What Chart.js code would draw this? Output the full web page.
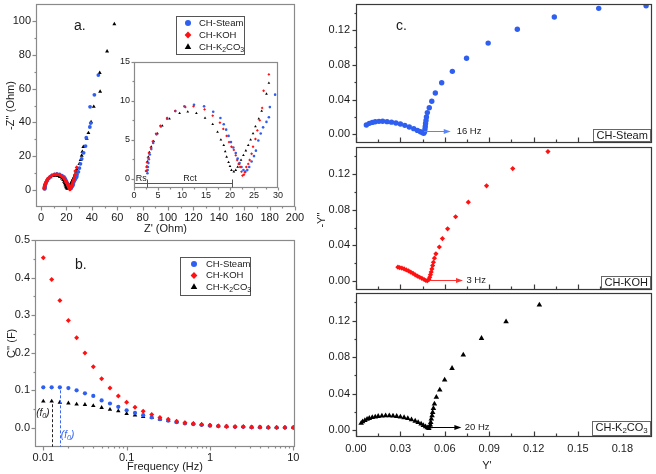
<!DOCTYPE html>
<html><head><meta charset="utf-8">
<script src="https://cdn.jsdelivr.net/npm/chart.js@4.4.1/dist/chart.umd.min.js"></script>
<style>
html,body{margin:0;padding:0;background:#fff;}
body{width:656px;height:474px;position:relative;overflow:hidden;}
canvas{position:absolute;}
</style>
</head><body>
<script>
// ================= DATA =================
// Panel a: Nyquist plot, Z' (Ohm) vs -Z'' (Ohm)
const aSteamX = [2.8,2.85,2.9,3.0,3.1,3.3,3.6,4.0,4.7,5.6,6.9,8.6,10.5,12.5,14.6,16.5,18.0,18.7,19.2,19.7,20.2,20.7,21.2,21.6,22.0,22.4,22.8,23.2,23.6,24.0,24.5,25.0,25.4,25.9,26.4,26.9,27.6,28.1,28.3,29.4,30.2,31.0,32.0,33.5,35.0,35.6,38.4,39.1,38.6,42.0,45.1];
const aSteamY = [0.7,1.1,1.5,2.0,2.5,3.1,3.8,4.6,5.7,6.7,7.7,8.7,9.3,9.5,9.3,8.6,7.8,7.0,6.3,5.5,4.7,4.0,3.3,2.6,2.0,1.5,1.1,0.9,1.1,1.5,2.2,2.9,3.6,4.9,5.8,6.6,7.3,7.9,9.2,10.8,13.0,15.5,18.5,22.0,26.0,31.0,37.3,39.6,49.2,56.3,68.0];
const aKohX = [2.5,2.6,2.7,2.9,3.1,3.5,3.9,4.6,5.5,6.9,8.6,10.7,12.4,14.7,16.4,17.9,18.6,19.3,19.8,20.3,20.8,21.2,21.5,21.8,22.1,22.4,22.6,22.9,23.1,23.4,23.8,24.1,24.5,24.8,25.3,25.7,26.2,26.7,27.0,28.1];
const aKohY = [1.0,1.5,2.1,2.7,3.3,4.0,4.8,5.8,6.8,7.8,8.7,9.2,9.3,8.9,8.1,7.2,6.4,5.5,4.7,4.1,3.7,3.0,2.4,1.9,1.5,0.9,0.4,0.5,0.8,1.5,1.9,2.4,3.2,4.1,5.1,6.2,7.5,9.1,11.3,13.4];
const aK2co3X = [2.6,2.7,2.8,3.0,3.2,3.6,4.1,4.9,5.9,7.4,9.5,11.2,13.0,14.8,16.4,17.4,18.1,18.7,19.0,19.3,19.7,20.0,20.3,20.8,21.2,21.6,21.9,22.3,22.8,23.3,23.8,24.3,24.8,25.3,26.0,26.6,27.6,28.1,30.2,31.2,32.0,32.5,33.3,36.0,37.3,39.4,41.5,46.5,46.2,52.0,57.7];
const aK2co3Y = [1.0,1.6,2.2,2.8,3.4,4.1,4.8,5.8,6.8,7.7,8.4,8.6,8.4,7.8,7.0,6.0,5.0,4.3,3.5,2.8,2.1,1.6,1.1,0.9,1.1,1.5,1.9,2.4,3.0,3.6,4.3,5.0,5.8,6.7,7.7,8.7,10.9,12.3,15.5,17.9,20.4,22.7,25.6,30.5,33.8,40.2,49.3,58.2,69.3,82.0,98.1];
const aXTicks = [0,20,40,60,80,100,120,140,160,180,200];
const aYTicks = [0,20,40,60,80,100];
const insetXTicks = [0,5,10,15,20,25,30];
const insetYTicks = [0,5,10,15];
const rsRctBounds = [0, 2.8, 20.5];   // Rs | Rct span on the Z' axis
const rsRctLabels = ['Rs', 'Rct'];

// Panel b: C'' (F) vs frequency (Hz)
const bFreq = [0.01,0.0126,0.0158,0.02,0.0251,0.0316,0.0398,0.0501,0.0631,0.0794,0.1,0.126,0.158,0.2,0.251,0.316,0.398,0.501,0.631,0.794,1,1.26,1.58,2,2.51,3.16,3.98,5.01,6.31,7.94,10];
const bSteam = [0.108,0.108,0.108,0.106,0.100,0.092,0.085,0.073,0.065,0.056,0.047,0.040,0.034,0.028,0.023,0.019,0.015,0.012,0.010,0.008,0.006,0.005,0.004,0.003,0.003,0.002,0.002,0.001,0.001,0.001,0.001];
const bKoh = [0.453,0.395,0.339,0.286,0.240,0.199,0.163,0.131,0.106,0.085,0.068,0.055,0.044,0.036,0.028,0.023,0.018,0.014,0.012,0.009,0.007,0.005,0.004,0.003,0.003,0.002,0.002,0.002,0.001,0.001,0.001];
const bK2co3 = [0.071,0.071,0.068,0.066,0.063,0.062,0.059,0.054,0.049,0.045,0.038,0.034,0.030,0.027,0.023,0.020,0.016,0.013,0.011,0.009,0.007,0.005,0.004,0.003,0.003,0.002,0.002,0.001,0.001,0.001,0.001];
const bXTicks = [0.01,0.1,1,10];
const bYTicks = [0,0.1,0.2,0.3,0.4,0.5];
const bF0Steam = 2, bF0K2co3 = 1;   // indices of the (f0) markers

// Panel c: admittance plots, Y' vs -Y''
const cSteamX = [0.007,0.009,0.011,0.013,0.0155,0.018,0.021,0.024,0.027,0.030,0.033,0.036,0.039,0.0415,0.0435,0.045,0.0458,0.0463,0.0466,0.0468,0.047,0.0473,0.0476,0.0482,0.0495,0.0512,0.0536,0.0579,0.0651,0.0747,0.0893,0.109,0.134,0.164,0.196];
const cSteamY = [0.0108,0.0126,0.0137,0.0144,0.0149,0.015,0.0146,0.014,0.013,0.0118,0.0103,0.0085,0.0065,0.0045,0.003,0.0019,0.0013,0.003,0.006,0.009,0.0125,0.016,0.020,0.025,0.0305,0.038,0.0475,0.0593,0.0725,0.0876,0.105,0.121,0.135,0.145,0.148];
const cKohX = [0.0283,0.0295,0.031,0.0325,0.034,0.0355,0.037,0.0385,0.040,0.0415,0.043,0.0445,0.046,0.0472,0.0482,0.0492,0.0498,0.0503,0.0508,0.0513,0.0518,0.0523,0.053,0.054,0.0563,0.0584,0.0619,0.0673,0.0759,0.0882,0.1059,0.1297];
const cKohY = [0.0154,0.0150,0.0143,0.0135,0.0124,0.0112,0.0098,0.0085,0.0069,0.0055,0.0041,0.0029,0.0016,0.0005,0.0002,0.0015,0.004,0.007,0.010,0.0135,0.0172,0.021,0.0256,0.0304,0.0381,0.0476,0.0585,0.0721,0.0885,0.1068,0.1262,0.1453];
const cK2co3X = [0.0035,0.0045,0.006,0.0075,0.009,0.011,0.013,0.015,0.0175,0.020,0.0225,0.025,0.0275,0.030,0.0325,0.035,0.0375,0.040,0.042,0.044,0.0455,0.047,0.0482,0.0492,0.0498,0.0502,0.0505,0.0509,0.0514,0.0518,0.0523,0.053,0.0543,0.0566,0.0599,0.0649,0.0725,0.0848,0.1014,0.1239];
const cK2co3Y = [0.0075,0.009,0.0105,0.0118,0.0128,0.0137,0.0144,0.015,0.0154,0.0156,0.0156,0.0154,0.015,0.0144,0.0136,0.0126,0.0113,0.0098,0.0083,0.0066,0.005,0.0035,0.0024,0.0018,0.0035,0.0055,0.0084,0.0121,0.0157,0.0194,0.0238,0.0285,0.0359,0.0439,0.0549,0.0677,0.0823,0.1006,0.1189,0.1372];
const cXTicks = [0,0.03,0.06,0.09,0.12,0.15,0.18];
const cYTicks = [0,0.04,0.08,0.12];
// frequency arrows: [x start, x end, y, label x, label]
const cSteamArrow = [0.046, 0.064, 0.004, 0.068, '16 Hz'];
const cKohArrow = [0.0499, 0.0723, 0.0014, 0.0746, '3 Hz'];
const cK2co3Arrow = [0.051, 0.0712, 0.0036, 0.0735, '20 Hz'];
const seriesNames = ['CH-Steam', 'CH-KOH', 'CH-K_2CO_3'];

// ================= HELPERS =================
const FONT = "'Liberation Sans', Arial, Helvetica, sans-serif";
const BLUE = '#2f5ff0', RED = '#ff1111', BLACK = '#000000', TXT = '#1a1a1a';
const pts = (xs, ys) => xs.map((x, i) => ({x, y: ys[i]}));
const mids = arr => arr.slice(1).map((v, i) => +((v + arr[i]) / 2).toFixed(6));

function parseRich(str){
  const out = [];
  for (let i = 0; i < str.length; i++){
    if (str[i] === '_' && i + 1 < str.length){ out.push({t: str[i+1], sub: true}); i++; }
    else { const l = out[out.length-1]; if (l && !l.sub) l.t += str[i]; else out.push({t: str[i], sub: false}); }
  }
  return out;
}
function drawRich(ctx, str, x, y, size, opt){
  opt = opt || {};
  const style = opt.style || '', segs = parseRich(str);
  let w = 0;
  for (const s of segs){ ctx.font = `${style} ${s.sub ? size*0.72 : size}px ${FONT}`; w += ctx.measureText(s.t).width; }
  let cx = opt.align === 'center' ? x - w/2 : opt.align === 'right' ? x - w : x;
  ctx.save(); ctx.fillStyle = opt.color || TXT; ctx.textBaseline = 'middle'; ctx.textAlign = 'left';
  for (const s of segs){
    ctx.font = `${style} ${s.sub ? size*0.72 : size}px ${FONT}`;
    ctx.fillText(s.t, cx, s.sub ? y + size*0.28 : y);
    cx += ctx.measureText(s.t).width;
  }
  ctx.restore();
  return w;
}
function marker(ctx, style, x, y, r, color){
  ctx.save(); ctx.fillStyle = color; ctx.beginPath();
  if (style === 'circle') ctx.arc(x, y, r, 0, Math.PI*2);
  else if (style === 'rectRot'){ ctx.moveTo(x, y-r); ctx.lineTo(x+r, y); ctx.lineTo(x, y+r); ctx.lineTo(x-r, y); ctx.closePath(); }
  else { ctx.moveTo(x, y-r); ctx.lineTo(x + r*0.866, y + r*0.5); ctx.lineTo(x - r*0.866, y + r*0.5); ctx.closePath(); }
  ctx.fill(); ctx.restore();
}
function legend(ctx, bx, by, bw, bh, rows, mx, tx){
  ctx.save(); ctx.strokeStyle = '#555'; ctx.lineWidth = 1;
  ctx.strokeRect(Math.round(bx)+0.5, Math.round(by)+0.5, bw, bh); ctx.restore();
  rows.forEach(r => { marker(ctx, r.s, mx, r.y, r.r, r.c); drawRich(ctx, r.label, tx, r.y, 9.5); });
}
function arrow(ctx, x1, x2, y, color){
  ctx.save(); ctx.strokeStyle = color; ctx.fillStyle = color; ctx.lineWidth = 1;
  ctx.beginPath(); ctx.moveTo(x1, y); ctx.lineTo(x2-5, y); ctx.stroke();
  ctx.beginPath(); ctx.moveTo(x2, y); ctx.lineTo(x2-7, y-2.6); ctx.lineTo(x2-7, y+2.6); ctx.closePath(); ctx.fill();
  ctx.restore();
}

const framePlugin = {
  id: 'frame',
  beforeDraw(chart, a, o){
    if (o && o.fill){ const c = chart.chartArea, ctx = chart.ctx; ctx.save(); ctx.fillStyle = o.fill; ctx.fillRect(c.left, c.top, c.width, c.height); ctx.restore(); }
  },
  afterDatasetsDraw(chart, a, o){
    if (!o) return;
    const ctx = chart.ctx, c = chart.chartArea;
    ctx.save(); ctx.strokeStyle = o.color; ctx.lineWidth = o.width || 1;
    ctx.strokeRect(Math.round(c.left)+0.5, Math.round(c.top)+0.5, Math.round(c.right)-Math.round(c.left)-1, Math.round(c.bottom)-Math.round(c.top)-1);
    for (const key of ['x','y']){
      const t = o.ticks && o.ticks[key]; if (!t) continue;
      const s = chart.scales[key], sg = t.dir === 'in' ? -1 : 1;
      const B = Math.round(c.bottom) - 0.5, L = Math.round(c.left) + 0.5;
      const one = (v, len) => {
        const p = Math.round(s.getPixelForValue(v)) + 0.5;
        ctx.beginPath();
        if (key === 'x'){ ctx.moveTo(p, B); ctx.lineTo(p, B + sg*len); }
        else { ctx.moveTo(L, p); ctx.lineTo(L - sg*len, p); }
        ctx.stroke();
      };
      (t.major || []).forEach(v => one(v, t.len || 4));
      (t.minor || []).forEach(v => one(v, t.mlen || 2));
    }
    ctx.restore();
  }
};

function axis(o){
  return {
    type: o.type || 'linear', min: o.min, max: o.max,
    afterBuildTicks: s => { s.ticks = o.ticks.map(v => ({value: v})); },
    ticks: {display: o.show !== false, autoSkip: false, maxRotation: 0, minRotation: 0, padding: o.pad,
      color: TXT, font: {family: FONT, size: o.size || 11}, callback: v => o.fmt(v)},
    grid: {display: false, drawTicks: false}, border: {display: false},
    title: o.title ? {display: true, text: o.title, color: TXT, font: {family: FONT, size: 11}, padding: o.tpad} : {display: false}
  };
}

function makeChart(cfg){
  const {box, area} = cfg;
  const cv = document.createElement('canvas');
  cv.width = box.w; cv.height = box.h;
  cv.style.left = box.l + 'px'; cv.style.top = box.t + 'px';
  document.body.appendChild(cv);
  const yW = area.l - box.l, xH = box.t + box.h - area.b;
  const zero = s => { s.paddingLeft = 0; s.paddingRight = 0; s.paddingTop = 0; s.paddingBottom = 0; };
  cfg.x.afterFit = s => { s.height = xH; zero(s); };
  cfg.y.afterFit = s => { s.width = yW; zero(s); };
  return new Chart(cv, {
    type: 'scatter',
    data: {datasets: cfg.datasets},
    options: {
      responsive: false, animation: false, devicePixelRatio: 1, events: [],
      layout: {padding: {left: 0, top: area.t - box.t, right: box.l + box.w - area.r, bottom: 0}},
      scales: {x: cfg.x, y: cfg.y},
      plugins: {legend: {display: false}, tooltip: {enabled: false}, frame: cfg.frame}
    },
    plugins: [framePlugin, {id: 'decor', afterDraw: c => { if (cfg.draw) cfg.draw(c, c.ctx); }}]
  });
}
function ds(label, data, style, color, r, order){
  return {label, data, pointStyle: style, pointRadius: r, pointBackgroundColor: color, pointBorderColor: color,
    pointBorderWidth: 0, backgroundColor: color, borderColor: color, showLine: false, order};
}
const logMinor = [];
[0.01, 0.1, 1].forEach(d => { for (let k = 2; k <= 9; k++) logMinor.push(+(d*k).toFixed(4)); });

// ================= PANEL a =================
const aDatasets = (r) => [
  ds(seriesNames[0], pts(aSteamX, aSteamY), 'circle', BLUE, r, 1),
  ds(seriesNames[1], pts(aKohX, aKohY), 'rectRot', RED, r*1.1, 0),
  ds(seriesNames[2], pts(aK2co3X, aK2co3Y), 'triangle', BLACK, r*1.2, 2)
];
makeChart({
  box: {l: 0, t: 0, w: 312, h: 240}, area: {l: 36, t: 2, r: 295, b: 207},
  datasets: aDatasets(1.9),
  x: axis({min: -4, max: 200, ticks: aXTicks, fmt: v => String(v), pad: 4, title: "Z' (Ohm)", tpad: {top: 0, bottom: 4}}),
  y: axis({min: -10, max: 110, ticks: aYTicks, fmt: v => String(v), pad: 5, title: "-Z'' (Ohm)", tpad: {top: 4, bottom: 4}}),
  frame: {color: '#8a8a8a', width: 1.2, ticks: {
    x: {major: aXTicks, minor: mids(aXTicks), dir: 'out', len: 4, mlen: 2},
    y: {major: aYTicks, minor: mids(aYTicks), dir: 'out', len: 4, mlen: 2}}},
  draw: (c, ctx) => {
    const A = c.chartArea;
    drawRich(ctx, 'a.', A.left + 38, A.top + 22, 14);
    legend(ctx, A.left + 140, A.top + 12, 68, 38, [
      {label: seriesNames[0], s: 'circle', r: 3, c: BLUE, y: A.top + 19},
      {label: seriesNames[1], s: 'rectRot', r: 3.4, c: RED, y: A.top + 31},
      {label: seriesNames[2], s: 'triangle', r: 3.8, c: BLACK, y: A.top + 43}
    ], A.left + 152, A.left + 163);
  }
});

// inset
makeChart({
  box: {l: 108, t: 52, w: 184, h: 150}, area: {l: 134, t: 62, r: 278, b: 188},
  datasets: aDatasets(1.3),
  x: axis({min: 0, max: 30, ticks: insetXTicks, fmt: v => String(v), pad: 2, size: 9}),
  y: axis({min: -1.2, max: 15, ticks: insetYTicks, fmt: v => String(v), pad: 4, size: 9}),
  frame: {color: '#8a8a8a', width: 1.2, fill: '#ffffff', ticks: {
    x: {major: insetXTicks, minor: mids(insetXTicks), dir: 'out', len: 3, mlen: 2},
    y: {major: insetYTicks, minor: mids(insetYTicks), dir: 'out', len: 3, mlen: 2}}},
  draw: (c, ctx) => {
    const sx = c.scales.x, sy = c.scales.y;
    const yl = Math.round(sy.getPixelForValue(-0.5)) + 0.5;
    const x0 = sx.getPixelForValue(rsRctBounds[0]) + 1, x1 = Math.round(sx.getPixelForValue(rsRctBounds[1])) + 0.5, x2 = Math.round(sx.getPixelForValue(rsRctBounds[2])) + 0.5;
    ctx.save(); ctx.strokeStyle = '#555'; ctx.lineWidth = 1;
    ctx.beginPath(); ctx.moveTo(x0, yl); ctx.lineTo(x2, yl);
    ctx.moveTo(x1, yl - 4); ctx.lineTo(x1, yl + 4);
    ctx.moveTo(x2, yl - 4); ctx.lineTo(x2, yl + 4); ctx.stroke(); ctx.restore();
    drawRich(ctx, rsRctLabels[0], (x0 + x1) / 2, yl - 5, 9, {align: 'center'});
    drawRich(ctx, rsRctLabels[1], (x1 + x2) / 2, yl - 5, 9, {align: 'center'});
  }
});

// ================= PANEL b =================
makeChart({
  box: {l: 0, t: 228, w: 312, h: 246}, area: {l: 35, t: 240, r: 295, b: 446.7},
  datasets: [
    ds(seriesNames[0], pts(bFreq, bSteam), 'circle', BLUE, 2.1, 1),
    ds(seriesNames[1], pts(bFreq, bKoh), 'rectRot', RED, 2.5, 0),
    ds(seriesNames[2], pts(bFreq, bK2co3), 'triangle', BLACK, 2.6, 2)
  ],
  x: axis({type: 'logarithmic', min: 0.00795, max: 10.48, ticks: bXTicks, fmt: v => String(v), pad: 5, title: 'Frequency (Hz)', tpad: {top: 0, bottom: 0}}),
  y: axis({min: -0.05, max: 0.5, ticks: bYTicks, fmt: v => v.toFixed(1), pad: 5, title: "C'' (F)", tpad: {top: 5, bottom: 5}}),
  frame: {color: '#8a8a8a', width: 1.2, ticks: {
    x: {major: bXTicks, minor: logMinor, dir: 'out', len: 4, mlen: 2},
    y: {major: bYTicks, minor: mids(bYTicks), dir: 'out', len: 4, mlen: 2}}},
  draw: (c, ctx) => {
    const A = c.chartArea, sx = c.scales.x, sy = c.scales.y;
    const marks = [[bFreq[bF0K2co3], bK2co3[bF0K2co3], '#222'], [bFreq[bF0Steam], bSteam[bF0Steam], '#3a66f2']];
    ctx.save(); ctx.lineWidth = 1; ctx.setLineDash([3, 2]);
    marks.forEach(m => { const px = Math.round(sx.getPixelForValue(m[0])) + 0.5; ctx.strokeStyle = m[2];
      ctx.beginPath(); ctx.moveTo(px, sy.getPixelForValue(m[1]) + 3); ctx.lineTo(px, A.bottom); ctx.stroke(); });
    ctx.restore();
    const pk = sx.getPixelForValue(marks[0][0]), ps = sx.getPixelForValue(marks[1][0]);
    drawRich(ctx, '(f_0)', pk - 2, sy.getPixelForValue(0.039), 10, {align: 'right', style: 'italic', color: '#222'});
    drawRich(ctx, '(f_0)', ps + 1, sy.getPixelForValue(-0.02), 10, {align: 'left', style: 'italic', color: '#3a66f2'});
    drawRich(ctx, 'b.', A.left + 40, A.top + 25, 14);
    legend(ctx, A.left + 145, A.top + 17, 70, 38, [
      {label: seriesNames[0], s: 'circle', r: 3, c: BLUE, y: A.top + 24},
      {label: seriesNames[1], s: 'rectRot', r: 3.4, c: RED, y: A.top + 35.5},
      {label: seriesNames[2], s: 'triangle', r: 3.8, c: BLACK, y: A.top + 47}
    ], A.left + 159, A.left + 171);
  }
});

// ================= PANEL c =================
function cPanel(box, area, data, style, color, r, yMin, yMax, showX, tag, arw, arwColor, extra){
  return makeChart({
    box, area,
    datasets: [ds(tag, data, style, color, r, 0)],
    x: axis({min: 0, max: 0.2, ticks: cXTicks, fmt: v => v.toFixed(2), pad: 6, show: showX}),
    y: axis({min: yMin, max: yMax, ticks: cYTicks, fmt: v => v.toFixed(2), pad: 6}),
    frame: {color: '#3a3a3a', width: 1.2, ticks: {
      x: {major: cXTicks, minor: mids(cXTicks).concat([0.195]), dir: 'in', len: 5, mlen: 3},
      y: {major: cYTicks, minor: mids(cYTicks).concat([0.14]), dir: 'out', len: 4, mlen: 2}}},
    draw: (c, ctx) => {
      const A = c.chartArea, sx = c.scales.x, sy = c.scales.y;
      const ay = Math.round(sy.getPixelForValue(arw[2])) + 0.5;
      arrow(ctx, sx.getPixelForValue(arw[0]), sx.getPixelForValue(arw[1]), ay, arwColor);
      drawRich(ctx, arw[4], sx.getPixelForValue(arw[3]), ay, 9.5);
      const tmp = document.createElement('canvas').getContext('2d');
      const segs = parseRich(tag); let w = 0;
      for (const s of segs){ tmp.font = `${s.sub ? 11*0.72 : 11}px ${FONT}`; w += tmp.measureText(s.t).width; }
      const bw = Math.round(w + 6), bh = tag.includes('_') ? 14 : 12;
      const bx = Math.round(A.right) - 2 - bw, by = Math.round(A.bottom) - 2 - bh;
      ctx.save(); ctx.fillStyle = '#fff'; ctx.fillRect(bx, by, bw, bh);
      ctx.strokeStyle = '#666'; ctx.lineWidth = 1; ctx.strokeRect(bx + 0.5, by + 0.5, bw, bh); ctx.restore();
      drawRich(ctx, tag, bx + 3.5, by + 6.5, 11);
      if (extra) extra(c, ctx);
    }
  });
}
const C2_LEFT = 311, C2_TOP = 140, C3_LEFT = 311, C3_TOP = 286;
cPanel({l: 311, t: 0, w: 345, h: 147}, {l: 356, t: 2, r: 653, b: 146.7}, pts(cSteamX, cSteamY), 'circle', BLUE, 2.7,
  -0.01, 0.15, false, seriesNames[0], cSteamArrow, '#5a86f5',
  (c, ctx) => drawRich(ctx, 'c.', c.chartArea.left + 40, c.chartArea.top + 22, 14));
cPanel({l: C2_LEFT, t: C2_TOP, w: 345, h: 154}, {l: 356, t: 146.7, r: 653, b: 293.3}, pts(cKohX, cKohY), 'rectRot', RED, 2.6,
  -0.0102, 0.1508, false, seriesNames[1], cKohArrow, '#ff3030',
  (c, ctx) => { ctx.save(); ctx.translate(322 - C2_LEFT, 220 - C2_TOP); ctx.rotate(-Math.PI/2); drawRich(ctx, "-Y''", 0, 0, 11, {align: 'center'}); ctx.restore(); });
cPanel({l: C3_LEFT, t: C3_TOP, w: 345, h: 188}, {l: 356, t: 293.3, r: 653, b: 436.7}, pts(cK2co3X, cK2co3Y), 'triangle', BLACK, 3.2,
  -0.0074, 0.150, true, seriesNames[2], cK2co3Arrow, '#000',
  (c, ctx) => drawRich(ctx, "Y'", 487 - C3_LEFT, 466 - C3_TOP, 11, {align: 'center'}));
</script>
</body></html>
